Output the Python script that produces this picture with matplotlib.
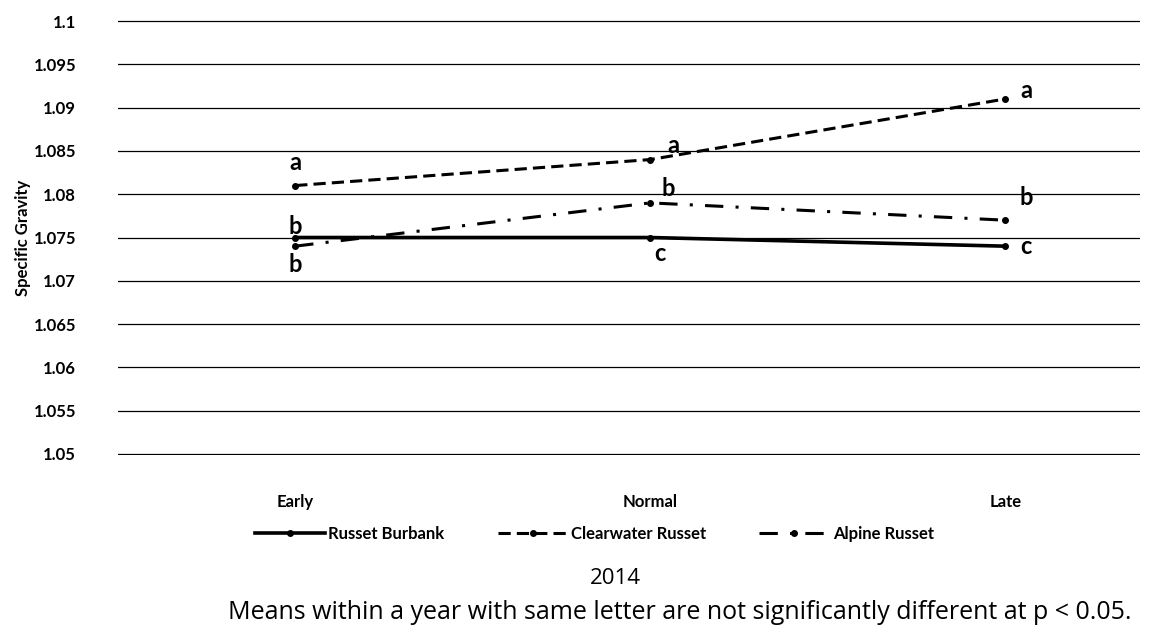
import matplotlib
matplotlib.use('Agg')
import matplotlib.pyplot as plt

# Данные по удельному весу клубней, 2014
categories = ['Early', 'Normal', 'Late']
burbank = [1.075, 1.075, 1.074]
clearwater = [1.081, 1.084, 1.091]
alpine = [1.074, 1.079, 1.077]

# Буквы значимости у каждой точки
burbank_letters = ['b', 'c', 'c']
clearwater_letters = ['a', 'a', 'a']
alpine_letters = ['b', 'b', 'b']

yticks = [1.05, 1.055, 1.06, 1.065, 1.07, 1.075, 1.08, 1.085, 1.09, 1.095, 1.1]

plt.rcParams['font.family'] = ['Lato', 'DejaVu Sans']

fig = plt.figure(figsize=(11.54, 6.30), dpi=100)
ax = fig.add_axes([0.102, 0.278, 0.886, 0.690])

x = range(len(categories))
ax.plot(x, burbank, color='black', lw=2.6, marker='o', ms=4, label='Russet Burbank')
ax.plot(x, clearwater, color='black', lw=2.2, ls=(0, (4, 2)), marker='o', ms=4,
        label='Clearwater Russet')
ax.plot(x, alpine, color='black', lw=2.2, ls=(0, (6, 4, 1, 4)), marker='o', ms=4,
        label='Alpine Russet')

ax.set_xlim(-0.5, 2.38)
ax.set_ylim(1.0499, 1.1001)
ax.set_yticks(yticks)
ax.set_yticklabels([f'{v:g}' for v in yticks], fontsize=12, fontweight='bold')
ax.set_xticks(list(x))
ax.set_xticklabels(categories, fontsize=12, fontweight='bold')
ax.tick_params(axis='both', length=0)
ax.tick_params(axis='x', pad=28)
ax.tick_params(axis='y', pad=30)
ax.grid(axis='y', color='black', lw=0.9)
ax.set_axisbelow(True)
for s in ax.spines.values():
    s.set_visible(False)
ax.set_ylabel('Specific Gravity', fontsize=12, fontweight='bold', labelpad=2)

# Подписи букв
fs = 17
kw = dict(textcoords='offset points', ha='center', fontsize=fs, fontweight='bold')
# Early
ax.annotate(clearwater_letters[0], (0, clearwater[0]), xytext=(0, 8), va='bottom', **kw)
ax.annotate(burbank_letters[0], (0, burbank[0]), xytext=(0, 0), va='bottom', **kw)
ax.annotate(alpine_letters[0], (0, alpine[0]), xytext=(0, -5), va='top', **kw)
# Normal
ax.annotate(clearwater_letters[1], (1, clearwater[1]), xytext=(17, 2), va='bottom', **kw)
ax.annotate(alpine_letters[1], (1, alpine[1]), xytext=(13, 2), va='bottom', **kw)
ax.annotate(burbank_letters[1], (1, burbank[1]), xytext=(7, -3), va='top', **kw)
# Late
ax.annotate(clearwater_letters[2], (2, clearwater[2]), xytext=(15, -2), va='bottom', **kw)
ax.annotate(alpine_letters[2], (2, alpine[2]), xytext=(15, 8), va='bottom', **kw)
ax.annotate(burbank_letters[2], (2, burbank[2]), xytext=(15, 0), va='center', **kw)

leg = fig.legend(loc='center', bbox_to_anchor=(0.515, 0.153), ncol=3, frameon=False,
                 prop={'weight': 'bold', 'size': 12}, handlelength=4.2, columnspacing=3.2,
                 handletextpad=0.2)

fig.text(0.533, 0.082, '2014', ha='center', va='center', fontsize=16, family='Open Sans')
fig.text(0.198, 0.028, 'Means within a year with same letter are not significantly different at p < 0.05.',
         ha='left', va='center', fontsize=18, family='Open Sans')

fig.savefig('out.png', dpi=100)
